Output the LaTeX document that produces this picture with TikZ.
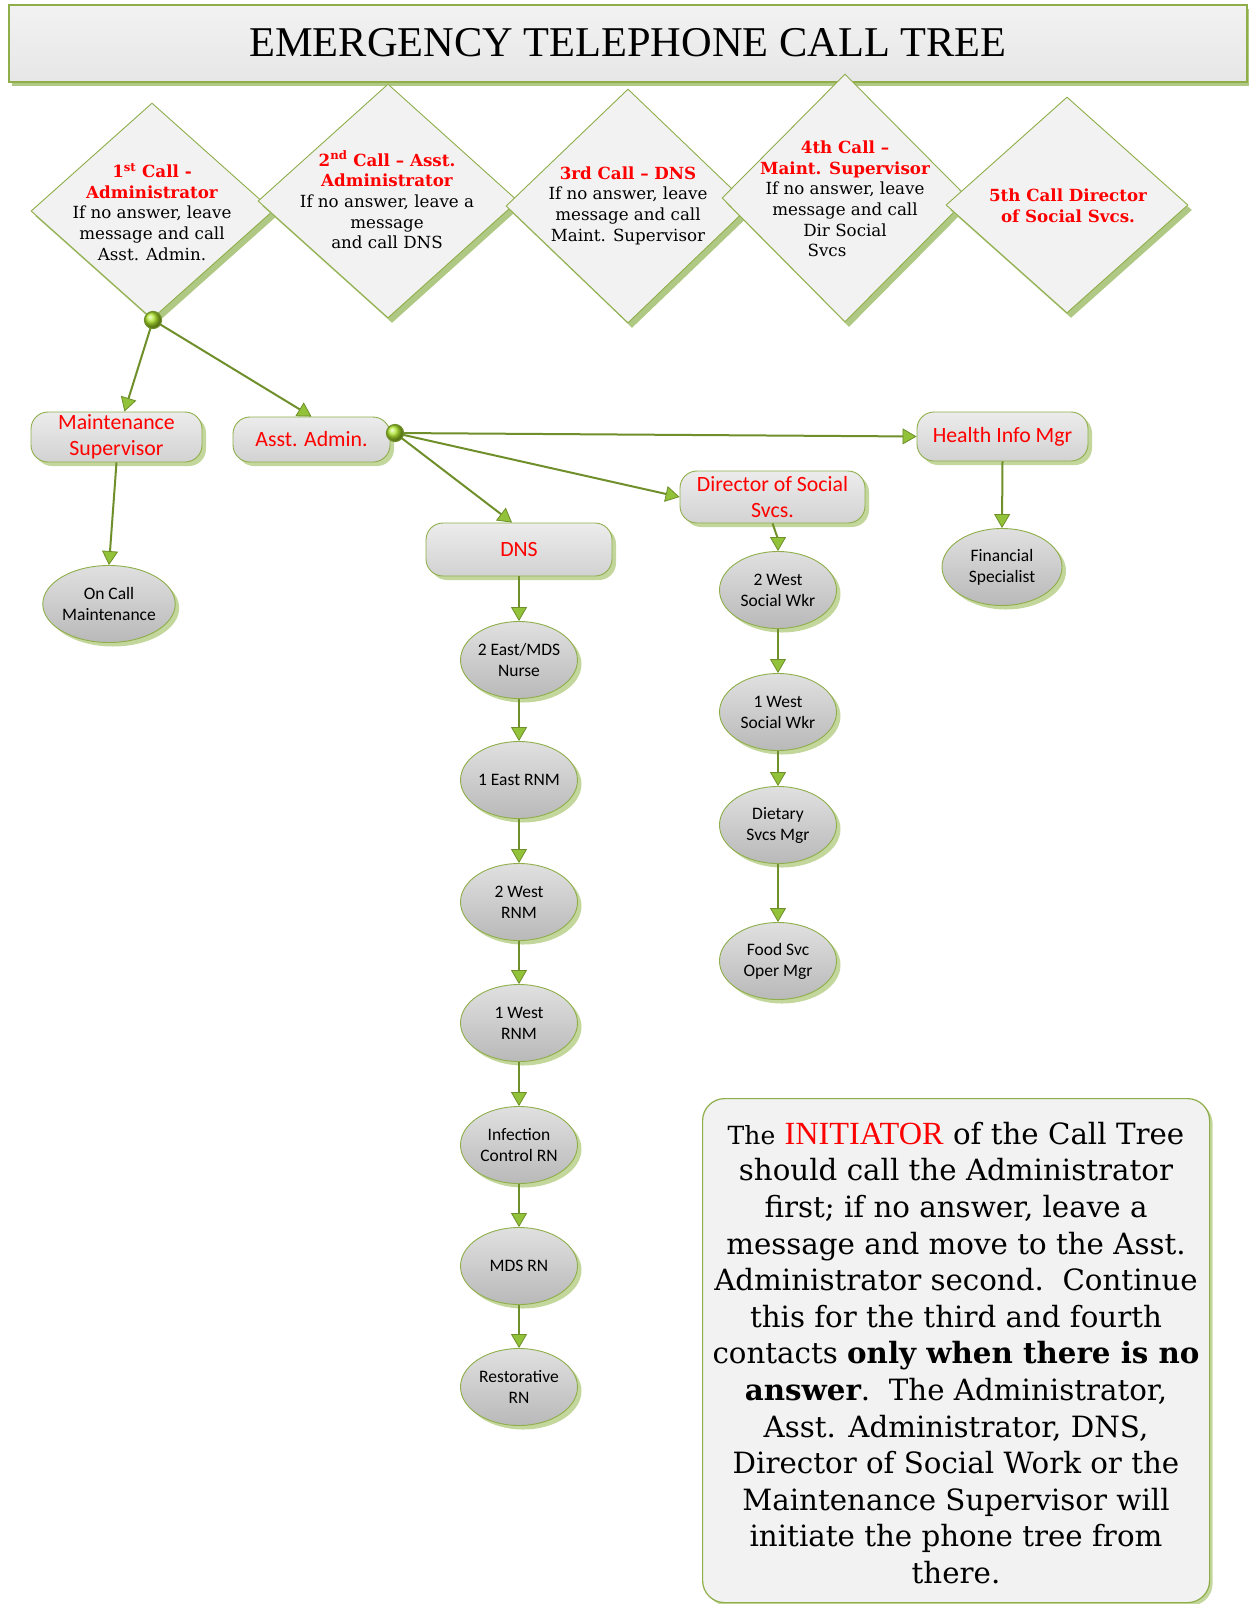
\documentclass[tikz,border=0pt]{standalone}
\usepackage{fontspec}
\setmainfont{DejaVu Serif}
\newfontfamily\calibri{Carlito}
\newfontfamily\timesf{Liberation Serif}
\usetikzlibrary{shapes.geometric,shadows,arrows.meta,calc}
\definecolor{lgreen}{HTML}{6F8F2A}
\definecolor{bgreen}{HTML}{8FAE4A}
\definecolor{agreen}{HTML}{92C13A}
\definecolor{sgreen}{HTML}{C3D69B}
\definecolor{dgreen}{HTML}{AFC883}
\definecolor{bgrey}{HTML}{F2F2F2}
\definecolor{boxtop}{HTML}{ECECEC}
\definecolor{boxbot}{HTML}{D2D2D2}
\definecolor{ovtop}{HTML}{E0E0E0}
\definecolor{ovbot}{HTML}{B9B9B9}
\definecolor{hubc}{HTML}{B0E82A}
\begin{document}
\begin{tikzpicture}[x=1pt,y=-1pt,
  diam/.style={diamond, draw=bgreen, line width=0.9pt, fill=bgrey, inner sep=0pt,
    drop shadow={shadow xshift=4pt, shadow yshift=-5pt, fill=dgreen, opacity=1}},
  dtext/.style={align=center, font=\fontsize{16.7}{20.7}\selectfont, inner sep=0pt},
  rbox/.style={rectangle, rounded corners=17pt, draw=bgreen, line width=0.9pt,
    top color=boxtop, bottom color=boxbot,
    drop shadow={shadow xshift=4pt, shadow yshift=-4pt, fill=sgreen, opacity=1},
    font=\calibri\fontsize{21.8}{26}\selectfont, text=red, align=center, inner sep=0pt},
  oval/.style={ellipse, draw=bgreen, line width=0.9pt, top color=ovtop, bottom color=ovbot,
    drop shadow={shadow xshift=4pt, shadow yshift=-4pt, fill=sgreen, opacity=1},
    font=\calibri\fontsize{17.5}{21}\selectfont, align=center, inner sep=0pt,
    minimum width=117pt, minimum height=77pt},
  conn/.style={draw=lgreen, line width=2pt,
    -{Triangle[length=14pt,width=16pt,fill=agreen,line width=0.8pt]}},
  hub/.style={circle, draw=lgreen, line width=1.2pt, ball color=hubc, minimum size=17pt, inner sep=0pt}
]
\useasboundingbox (0,0) rectangle (1249,1604);

% title
\node[rectangle, draw=bgreen, line width=1.2pt, top color=bgrey, bottom color=bgrey!90!gray,
  drop shadow={shadow xshift=3pt, shadow yshift=-4pt, fill=dgreen, opacity=1},
  minimum width=1238pt, minimum height=77pt, inner sep=0pt] (title) at (628,43.5) {};
\node[font=\timesf\fontsize{42.4}{48}\selectfont, inner sep=0pt] (titletext) at (628,43) {EMERGENCY TELEPHONE CALL TREE};

% diamonds
\node[diam, minimum width=242pt, minimum height=216pt] (d1) at (152,211) {};
\node[diam, minimum width=260pt, minimum height=234pt] (d2) at (388,201) {};
\node[diam, minimum width=244pt, minimum height=234pt] (d3) at (628,206) {};
\node[diam, minimum width=246pt, minimum height=248pt] (d4) at (845,198) {};
\node[diam, minimum width=242pt, minimum height=216pt] (d5) at (1067,205) {};

\node[dtext] (d1t) at (152,212) {{\color{red}\bfseries 1\textsuperscript{st} Call -}\\{\color{red}\bfseries Administrator}\\If no answer, leave\\message and call\\Asst. Admin.};
\node[dtext] (d2t) at (387,200) {{\color{red}\bfseries 2\textsuperscript{nd} Call -- Asst.}\\{\color{red}\bfseries Administrator}\\If no answer, leave a\\message\\and call DNS};
\node[dtext] (d3t) at (628,205.5) {{\color{red}\bfseries 3rd Call -- DNS}\\If no answer, leave\\message and call\\Maint. Supervisor};
\node[dtext] (d4t) at (845,199) {{\color{red}\bfseries 4th Call --}\\{\color{red}\bfseries Maint. Supervisor}\\If no answer, leave\\message and call\\Dir Social\\Svcs\hspace*{36pt}};
\node[dtext] (d5t) at (1068,206) {{\color{red}\bfseries 5th Call Director}\\{\color{red}\bfseries of Social Svcs.}};

% boxes
\node[rbox, minimum width=171pt, minimum height=50pt] (ms) at (116.5,437) {Maintenance\\Supervisor};
\node[rbox, minimum width=157pt, minimum height=45pt] (aa) at (311.5,439.5) {Asst. Admin.};
\node[rbox, minimum width=171pt, minimum height=49pt] (him) at (1002.5,436.5) {Health Info Mgr};
\node[rbox, minimum width=185pt, minimum height=52pt] (dss) at (772.5,497) {Director of Social\\Svcs.};
\node[rbox, minimum width=186pt, minimum height=53pt] (dns) at (519,549.5) {DNS};

% ovals
\node[oval, minimum width=126pt] (oc) at (109,604) {On Call\\Maintenance};
\node[oval, minimum width=120pt] (fin) at (1002,567) {Financial\\Specialist};
\node[oval] (sw2) at (778,590) {2 West\\Social Wkr};
\node[oval] (sw1) at (778,712) {1 West\\Social Wkr};
\node[oval] (diet) at (778,825) {Dietary\\Svcs Mgr};
\node[oval] (food) at (778,961) {Food Svc\\Oper Mgr};
\node[oval] (e2) at (519,660) {2 East/MDS\\Nurse};
\node[oval] (e1) at (519,780) {1 East RNM};
\node[oval] (w2) at (519,902) {2 West\\RNM};
\node[oval] (w1) at (519,1023) {1 West\\RNM};
\node[oval] (inf) at (519,1145) {Infection\\Control RN};
\node[oval] (mds) at (519,1266) {MDS RN};
\node[oval] (rest) at (519,1387) {Restorative\\RN};

% hubs
\coordinate (hub1) at (153,320);
\coordinate (hub2) at (395,433);

% connectors
\draw[conn] (hub1) -- (ms);
\draw[conn] (hub1) -- (aa.north);
\draw[conn] (ms.south) -- (oc.north);
\draw[conn] (hub2) -- (him.west);
\draw[conn] (hub2) -- (dss.west);
\draw[conn] (hub2) -- ($(dns.north)+(-7,0)$);
\draw[conn] (him.south) -- (fin.north);
\draw[conn] (dss.south) to[out=-70,in=90] (sw2.north);
\draw[conn] (sw2) -- (sw1);
\draw[conn] (sw1) -- (diet);
\draw[conn] (diet) -- (food);
\draw[conn] (dns) -- (e2);
\draw[conn] (e2) -- (e1);
\draw[conn] (e1) -- (w2);
\draw[conn] (w2) -- (w1);
\draw[conn] (w1) -- (inf);
\draw[conn] (inf) -- (mds);
\draw[conn] (mds) -- (rest);
\node[hub] (hubdot1) at (hub1) {};
\node[hub] (hubdot2) at (hub2) {};

% note
\node[rectangle, rounded corners=22pt, draw=bgreen, line width=1.2pt, fill=bgrey,
  drop shadow={shadow xshift=3pt, shadow yshift=-3pt, fill=sgreen, opacity=1},
  minimum width=507pt, minimum height=504pt, inner sep=0pt, anchor=north west] (note) at (702,1098) {};
\node[align=center, font=\fontsize{29.3}{36.6}\selectfont, inner sep=0pt] (notetext) at (956,1353)
{{\fontsize{25}{36.6}\selectfont The} {\timesf\fontsize{32.3}{36.6}\selectfont\color{red}INITIATOR} of the Call Tree\\
should call the Administrator\\
first; if no answer, leave a\\
message and move to the Asst.\\
Administrator second.\ \ Continue\\
this for the third and fourth\\
contacts \textbf{only when there is no}\\
\textbf{answer}.\ \ The Administrator,\\
Asst. Administrator, DNS,\\
Director of Social Work or the\\
Maintenance Supervisor will\\
initiate the phone tree from\\
there.};
\end{tikzpicture}
\end{document}
